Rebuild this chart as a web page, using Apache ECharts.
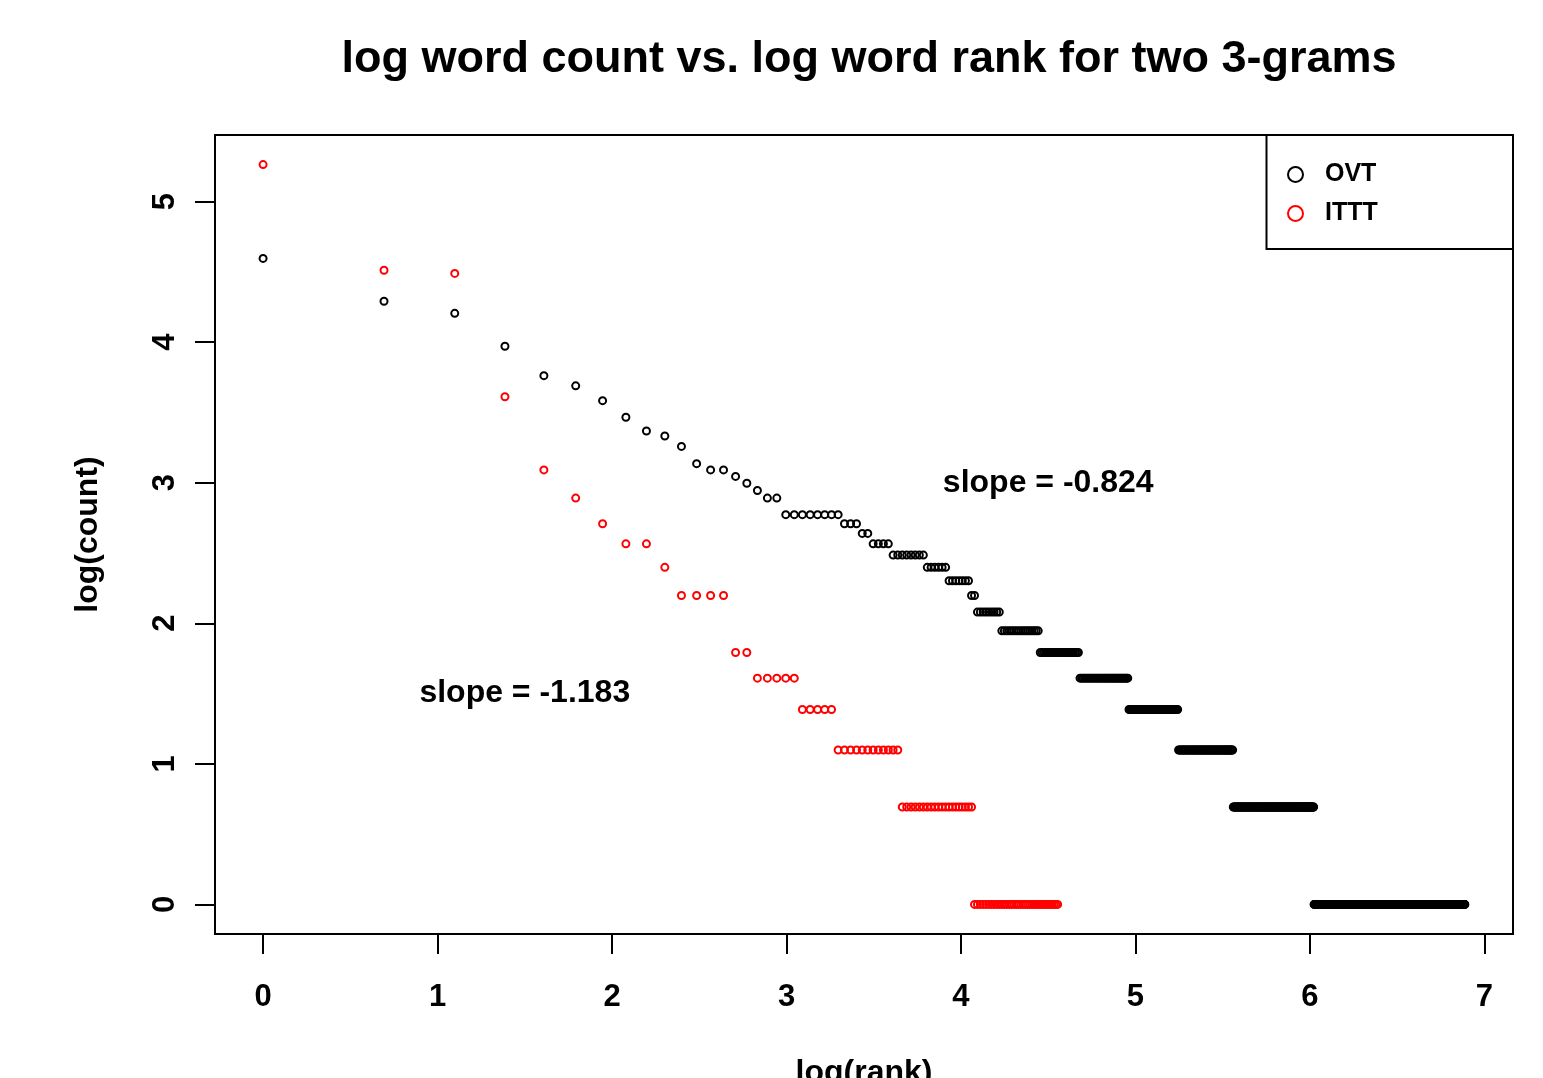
<!DOCTYPE html>
<html><head><meta charset="utf-8">
<script src="https://cdn.jsdelivr.net/npm/echarts@6/dist/echarts.min.js"></script>
<style>html,body{margin:0;padding:0;background:#fff}#c{width:1543px;height:1078px}</style>
</head><body><div id="c"></div>
<script>
// OVT: counts of the highest-ranked 3-grams, then runs of equal counts (count, number of ranks)
const ovtTopCounts = [99,73,67,53,43,40,36,32,29,28,26,23,22,22,21,20,19,18,18];
const ovtRunCounts = [16,15,14,13,12,11,10,9,8,7,6,5,4,3,2,1];
const ovtRunLengths = [8,3,2,4,8,6,7,2,9,17,22,35,47,70,153,568];
// ITTT
const itttTopCounts = [193,91,89,37,22,18,15,13,13,11,9,9,9,9,6,6,5,5,5,5,5,4,4,4,4,4];
const itttRunCounts = [3,2,1];
const itttRunLengths = [12,20,37];
const xTicks = [0,1,2,3,4,5,6,7];
const yTicks = [0,1,2,3,4,5];
const seriesNames = ['OVT','ITTT'];
const slopeTexts = ['slope = -0.824','slope = -1.183'];

function expand(top, runCounts, runLengths){
  const counts = top.slice();
  runCounts.forEach((c,i)=>{ for(let k=0;k<runLengths[i];k++) counts.push(c); });
  return counts.map((c,i)=>[Math.log(i+1), Math.log(c)]);
}
const ovtPoints = expand(ovtTopCounts, ovtRunCounts, ovtRunLengths);
const itttPoints = expand(itttTopCounts, itttRunCounts, itttRunLengths);

const FONT = '"Liberation Sans", Arial, Helvetica, sans-serif';
const txt = (size)=>({fontFamily:FONT, fontWeight:'bold', fontSize:size, color:'#000'});

const chart = echarts.init(document.getElementById('c'), null, {renderer:'canvas'});
chart.setOption({
  animation:false,
  backgroundColor:'#fff',
  title:{text:'log word count vs. log word rank for two 3-grams', left:864, top:32, textAlign:'center', textStyle:txt(45)},
  grid:{left:215, top:135, width:1298, height:799, show:true, borderColor:'#000', borderWidth:2,
        backgroundColor:'transparent', containLabel:false, outerBoundsMode:'none'},
  xAxis:{type:'value', min:-0.2755, max:7.1637,
    name:'log(rank)', nameLocation:'middle', nameGap:123, nameTextStyle:txt(32),
    axisLine:{show:false, onZero:false}, splitLine:{show:false},
    axisTick:{show:true, length:20, lineStyle:{color:'#000', width:2}, customValues:xTicks},
    axisLabel:{customValues:xTicks, margin:48, ...txt(31)}},
  yAxis:{type:'value', min:-0.2105, max:5.4732,
    name:'log(count)', nameLocation:'middle', nameGap:111, nameRotate:90, nameTextStyle:txt(32),
    axisLine:{show:false, onZero:false}, splitLine:{show:false},
    axisTick:{show:true, length:20, lineStyle:{color:'#000', width:2}, customValues:yTicks},
    axisLabel:{customValues:yTicks, rotate:90, margin:34, ...txt(31)}},
  legend:{
    data:[
      {name:seriesNames[0], icon:'circle', itemStyle:{color:'transparent', borderColor:'#000', borderWidth:2, opacity:1}},
      {name:seriesNames[1], icon:'circle', itemStyle:{color:'transparent', borderColor:'#ff0000', borderWidth:2, opacity:1}}
    ],
    orient:'vertical', left:1282, top:157, itemWidth:15, itemHeight:15, itemGap:14,
    textStyle:{...txt(25), padding:[0,0,0,17]}
  },
  graphic:[{type:'rect', shape:{x:1266.5, y:135, width:246.5, height:114}, style:{fill:'none', stroke:'#000', lineWidth:2}, silent:true}],
  series:[
    {name:seriesNames[0], type:'scatter', data:ovtPoints, symbol:'circle', symbolSize:7,
     itemStyle:{color:'transparent', borderColor:'#000', borderWidth:2, opacity:1}},
    {name:seriesNames[1], type:'scatter', data:itttPoints, symbol:'circle', symbolSize:7,
     itemStyle:{color:'transparent', borderColor:'#ff0000', borderWidth:2, opacity:1}},
    {name:'annotations', type:'scatter', symbolSize:1, itemStyle:{color:'transparent', opacity:1}, silent:true,
     data:[{value:[4.5,3.0], name:slopeTexts[0]}, {value:[1.5,1.5], name:slopeTexts[1]}],
     label:{show:true, position:'inside', formatter:'{b}', ...txt(32)}}
  ]
});
</script></body></html>
